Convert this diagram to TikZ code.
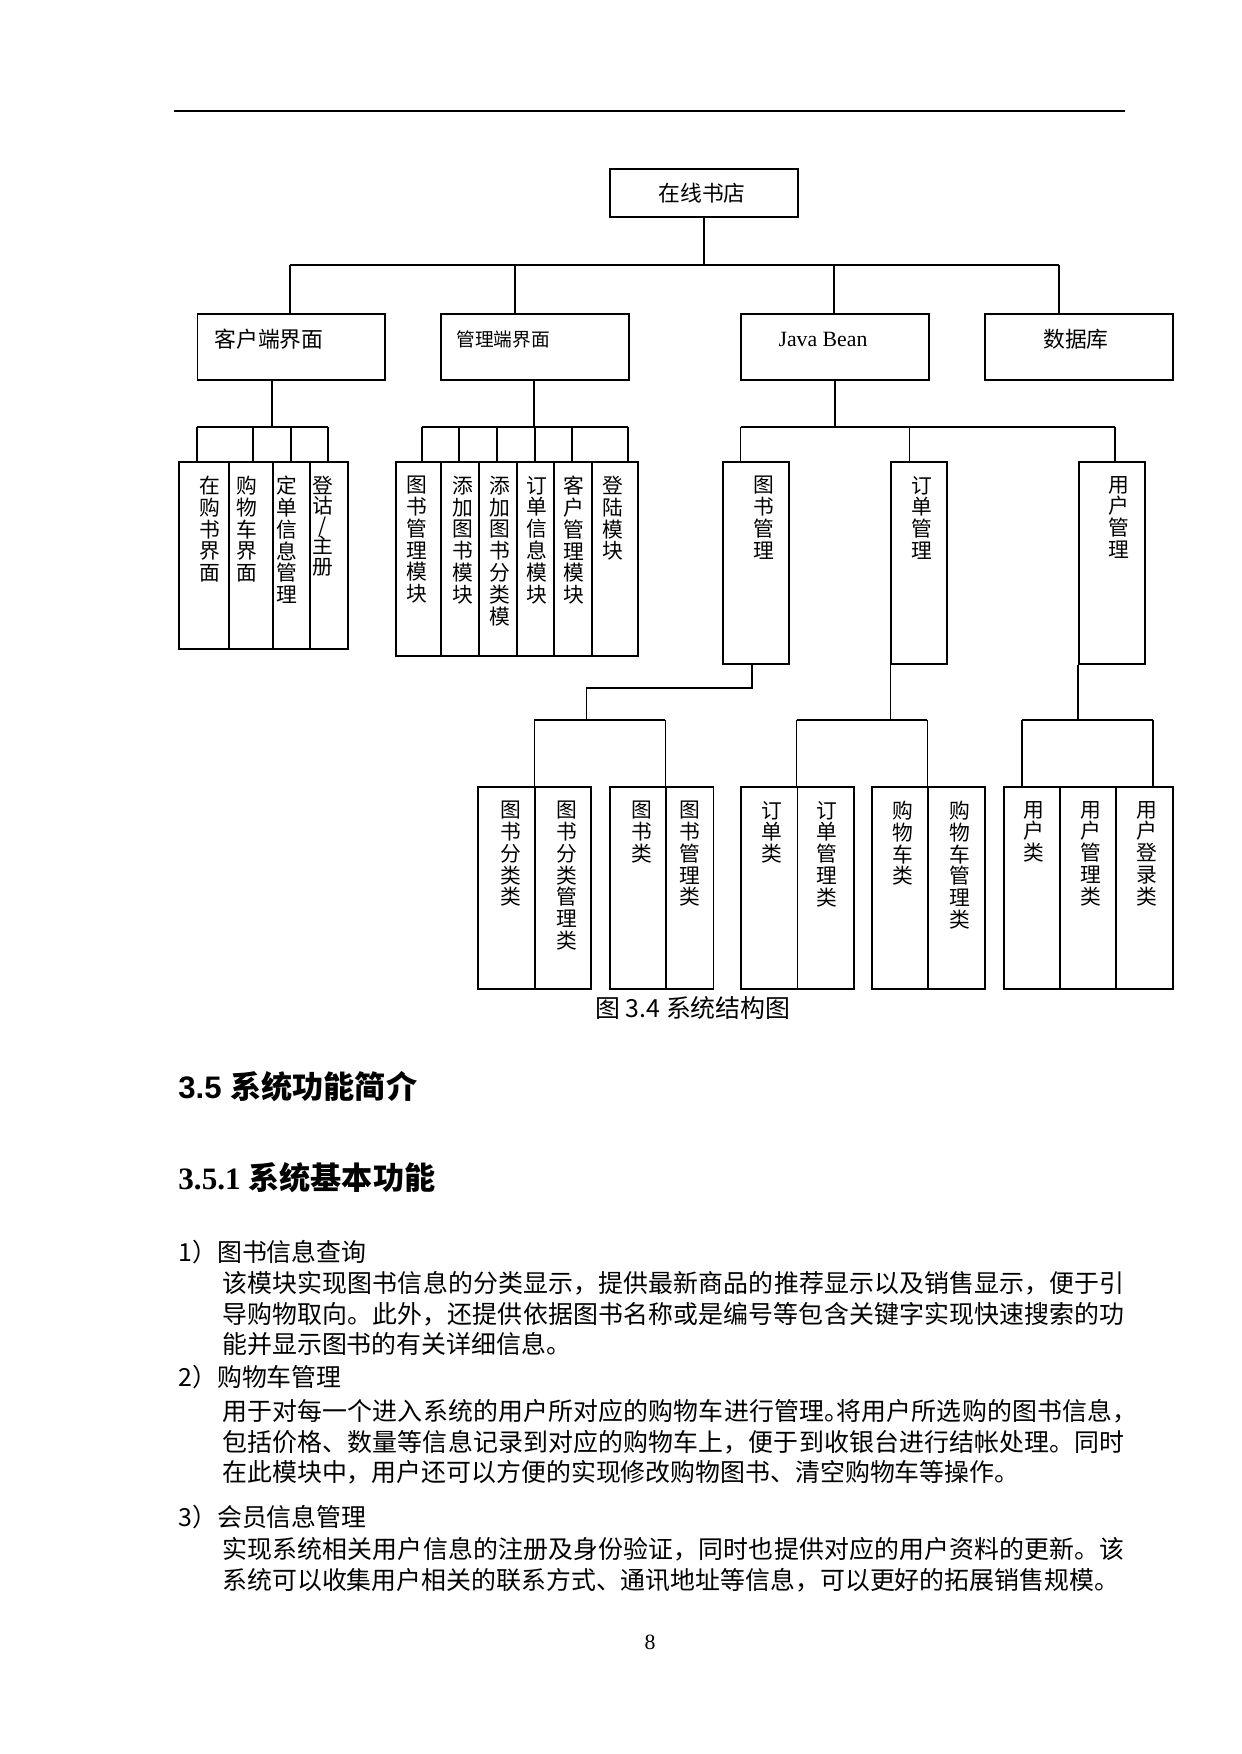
\documentclass[tikz,border=0pt]{standalone}
\usepackage{fontspec}
\setmainfont{Liberation Serif}
\setsansfont{Liberation Sans}
\newfontfamily\cjk{Noto Sans CJK SC}
\XeTeXlinebreaklocale "zh"
\XeTeXlinebreakskip=0pt plus 1pt
\newlength{\pxu}
\setlength{\pxu}{0.16933mm}
\tikzset{
  boxline/.style={draw, line width=0.9pt, anchor=north west, inner sep=0pt},
  vlabel/.style={anchor=north, align=center, inner sep=0pt, font=\cjk\fontsize{10}{10.5}\selectfont},
  hlabel/.style={inner sep=0pt, font=\cjk\fontsize{10.5}{12}\selectfont},
  wire/.style={line width=0.55pt},
  heavywire/.style={line width=1pt},
  para/.style={anchor=north west, inner sep=0pt, align=justify, text width=152.8mm,
               font=\cjk\fontsize{12}{14.9}\selectfont},
  itemhead/.style={anchor=west, inner sep=0pt, font=\cjk\fontsize{12}{14.9}\selectfont},
  headline/.style={anchor=west, inner sep=0pt, font=\fontsize{15}{18}\selectfont\bfseries}
}
% empty box from (x1,y1) to (x2,y2), in page pixels
\newcommand{\boxat}[5]{%
  \node[boxline, minimum width={(#3-#2)*\pxu}, minimum height={(#5-#4)*\pxu}] (#1) at (#2,#4) {};}
% tall box with its label written top-down
\newcommand{\colbox}[7]{%
  \boxat{#1}{#2}{#3}{#4}{#5}
  \node[vlabel] (#1t) at (#6,#4+15) {#7};}
% half-width punctuation
\newcommand{\halfp}[1]{\makebox[6pt][l]{#1}}

\begin{document}
\begin{tikzpicture}[x=0.16933mm, y=-0.16933mm]
\useasboundingbox (0,0) rectangle (1241,1754);
% page rule
\coordinate (rulel) at (174,111);
\coordinate (ruler) at (1124.5,111);
\draw[heavywire] (rulel) -- (ruler);

% top level
\boxat{root}{609}{797}{168}{216}
\node[hlabel] (roott) at (702,193) {在线书店};

\boxat{client}{196.5}{384}{313}{379}
\node[hlabel, anchor=west] (clientt) at (214,339) {客户端界面};
\boxat{admin}{440}{628}{313}{379}
\node[hlabel, anchor=west, font=\cjk\fontsize{9}{11}\selectfont] (admint) at (456,339) {管理端界面};
\boxat{bean}{740}{928}{313}{379}
\node[hlabel, font=\rmfamily\fontsize{10.5}{12}\selectfont] (beant) at (823,339) {Java Bean};
\boxat{db}{984}{1172}{313}{379}
\node[hlabel] (dbt) at (1076,339) {数据库};

\coordinate (busl) at (290,265);
\coordinate (busa) at (515,265);
\coordinate (busb) at (834,265);
\coordinate (busr) at (1059,265);
\draw[heavywire] (root.south) -- (root.south |- busl);
\draw[wire] (busl) -- (busr);
\draw[wire] (busl) -- (busl |- client.north);
\draw[wire] (busa) -- (busa |- admin.north);
\draw[wire] (busb) -- (busb |- bean.north);
\draw[wire] (busr) -- (busr |- db.north);

% client pages
\colbox{cl1}{177.7}{228.3}{460.7}{647.7}{210}{在\\购\\书\\界\\面}
\colbox{cl2}{228.3}{272}{460.7}{647.7}{247}{购\\物\\车\\界\\面}
\colbox{cl3}{272}{309.3}{460.7}{647.7}{286.7}{定\\单\\信\\息\\管\\理}
\colbox{cl4}{309.3}{346.7}{460.7}{647.7}{323}{登\\[-0.8pt]诂\\[-0.8pt]/\\[-0.8pt]主\\[-0.8pt]册}

\coordinate (clbus) at (272,427);
\draw[heavywire] (clbus |- client.south) -- (clbus);
\foreach \x [count=\i] in {196.7,252.7,290.7,327.7}
  \coordinate (cld\i) at (\x,427);
\draw[heavywire] (cld1) -- (cld4);
\foreach \i in {1,...,4}
  \draw[heavywire] (cld\i) -- (cld\i |- cl\i.north);

% admin modules
\colbox{ad1}{395}{440.3}{460.7}{655}{416.7}{图\\书\\管\\理\\模\\块}
\colbox{ad2}{440.3}{478.3}{460.7}{655}{462.7}{添\\加\\图\\书\\模\\块}
\colbox{ad3}{478.3}{515.7}{460.7}{655}{500}{添\\加\\图\\书\\分\\类\\模}
\colbox{ad4}{515.7}{553.3}{460.7}{655}{536.7}{订\\单\\信\\息\\模\\块}
\colbox{ad5}{553.3}{590.7}{460.7}{655}{574.3}{客\\户\\管\\理\\模\\块}
\colbox{ad6}{590.7}{636.7}{460.7}{655}{613.3}{登\\陆\\模\\块}

\coordinate (adbus) at (534,427);
\draw[wire] (adbus |- admin.south) -- (adbus);
\foreach \x [count=\i] in {422,459.3,497.3,534.7,572.3,627.7}
  \coordinate (add\i) at (\x,427);
\draw[heavywire] (add1) -- (add6);
\foreach \i in {1,...,6}
  \draw[heavywire] (add\i) -- (add\i |- ad\i.north);

% java beans
\colbox{bookmgr}{721.7}{788.3}{460.7}{662.7}{764}{图\\书\\管\\理}
\colbox{ordermgr}{890.3}{946}{460.7}{662.7}{921.7}{订\\单\\管\\理}
\colbox{usermgr}{1077.7}{1144.3}{460.7}{662.7}{1119.3}{用\\户\\管\\理}

\coordinate (bnl) at (740.7,427);
\coordinate (bnm) at (909.3,427);
\coordinate (bnr) at (1115,427);
\draw[wire] (bean.south) -- (bean.south |- bnl);
\draw[heavywire] (bnl) -- (bnr);
\draw[wire] (bnl) -- (bnl |- bookmgr.north);
\draw[wire] (bnm) -- (bnm |- ordermgr.north);
\draw[wire] (bnr) -- (bnr |- usermgr.north);

% classes
\colbox{bc1}{477.4}{534.4}{785.7}{987.7}{510.5}{图\\书\\分\\类\\类}
\colbox{bc2}{534.4}{590}{785.7}{987.7}{566.5}{图\\书\\分\\类\\管\\理\\类}
\colbox{bc3}{608.8}{665.2}{785.7}{987.7}{641.4}{图\\书\\类}
\colbox{bc4}{665.2}{712.5}{785.7}{987.7}{689.6}{图\\书\\管\\理\\类}
\colbox{oc1}{740}{796.5}{785.7}{987.7}{772.2}{订\\单\\类}
\colbox{oc2}{796.5}{853}{785.7}{987.7}{827.3}{订\\单\\管\\理\\类}
\colbox{oc3}{871.4}{927.4}{785.7}{987.7}{903}{购\\物\\车\\类}
\colbox{oc4}{927.4}{983.9}{785.7}{987.7}{959.5}{购\\物\\车\\管\\理\\类}
\colbox{uc1}{1002.7}{1059.2}{785.7}{987.7}{1034}{用\\户\\类}
\colbox{uc2}{1059.2}{1115.2}{785.7}{987.7}{1091.3}{用\\户\\管\\理\\类}
\colbox{uc3}{1115.2}{1171.7}{785.7}{987.7}{1146.4}{用\\户\\登\\录\\类}

\coordinate (bka) at (751.7,687.7);
\coordinate (bkb) at (586.3,687.7);
\coordinate (bkl) at (534.4,720);
\coordinate (bkr) at (665.2,720);
\draw[heavywire] (bka |- bookmgr.south) -- (bka) -- (bkb);
\draw[wire] (bkb) -- (bkb |- bkl);
\draw[wire] (bkl) -- (bkr);
\draw[wire] (bkl) -- (bkl |- bc2.north);
\draw[wire] (bkr) -- (bkr |- bc4.north);

\coordinate (odl) at (796.5,720);
\coordinate (odr) at (927.4,720);
\draw[wire] (ordermgr.south west) -- (ordermgr.south west |- odl);
\draw[heavywire] (odl) -- (odr);
\draw[wire] (odl) -- (odl |- oc2.north);
\draw[wire] (odr) -- (odr |- oc4.north);

\coordinate (usl) at (1021.7,720);
\coordinate (usr) at (1153.3,720);
\draw[heavywire] (usermgr.south west) -- (usermgr.south west |- usl);
\draw[heavywire] (usl) -- (usr);
\draw[heavywire] (usl) -- (usl |- uc1.north);
\draw[heavywire] (usr) -- (usr |- uc3.north);

\node[hlabel, font=\cjk\fontsize{12}{14}\selectfont] (caption) at (693,1008) {图 3.4 系统结构图};

% text of the page
\node[headline] (sec) at (178,1087) {{\sffamily 3.5 }{\cjk 系统功能简介}};
\node[headline] (subsec) at (178,1178) {{\rmfamily 3.5.1 }{\cjk 系统基本功能}};

\node[itemhead] (item1) at (178,1252) {1）图书信息查询};
\node[para] (text1) at (222,1270.5) {该模块实现图书信息的分类显示，提供最新商品的推荐显示以及销售显示，便于引\linebreak
导购物取向。此外，还提供依据图书名称或是编号等包含关键字实现快速搜索的功\linebreak
能并显示图书的有关详细信息。};
\node[itemhead] (item2) at (178,1377) {2）购物车管理};
\node[para] (text2) at (222,1398.5) {用于对每一个进入系统的用户所对应的购物车进行管理\halfp{。}将用户所选购的图书信息\halfp{，}\linebreak
包括价格、数量等信息记录到对应的购物车上，便于到收银台进行结帐处理。同时\linebreak
在此模块中，用户还可以方便的实现修改购物图书、清空购物车等操作。};
\node[itemhead] (item3) at (178,1517) {3）会员信息管理};
\node[para] (text3) at (222,1536.5) {实现系统相关用户信息的注册及身份验证，同时也提供对应的用户资料的更新。该\linebreak
系统可以收集用户相关的联系方式、通讯地址等信息，可以更好的拓展销售规模。};

\node[inner sep=0pt, font=\rmfamily\fontsize{10.5}{12}\selectfont] (pageno) at (650,1642) {8};
\end{tikzpicture}
\end{document}
